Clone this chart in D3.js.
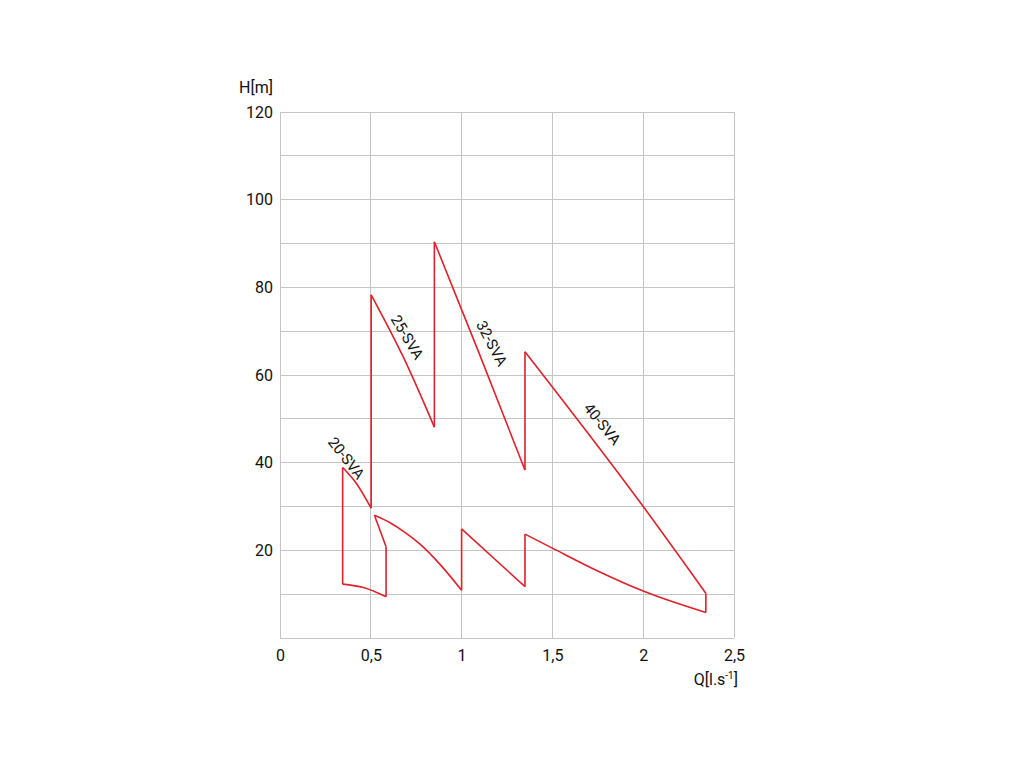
<!DOCTYPE html>
<html>
<head>
<meta charset="utf-8">
<script src="https://cdn.jsdelivr.net/npm/d3@7"></script>
<style>
  html, body { margin: 0; padding: 0; background: #fff; }
  svg text { font-family: "Roboto", "Liberation Sans", sans-serif; fill: #111; }
</style>
</head>
<body>
<svg id="chart" width="1024" height="768"></svg>
<script>
// ---- data ----
const xTicks = [0, 0.5, 1, 1.5, 2, 2.5];
const xTickLabels = ["0", "0,5", "1", "1,5", "2", "2,5"];
const yTicks = [20, 40, 60, 80, 100, 120];
const yGrid = [10, 20, 30, 40, 50, 60, 70, 80, 90, 100, 110, 120];

// outline segments of the operating-range envelope (Q in l/s, H in m)
const seg20top   = { q: [0.345, 0.42, 0.502],        h: [38.9, 35.3, 29.6] };
const seg25vert  = { q: [0.502, 0.502],              h: [29.6, 78.3] };
const seg25top   = { q: [0.502, 0.68, 0.85],         h: [78.3, 64.0, 48.1] };
const seg32vert  = { q: [0.85, 0.85],                h: [48.1, 90.4] };
const seg32top   = { q: [0.85, 1.1, 1.349],          h: [90.4, 64.6, 38.3] };
const seg40vert  = { q: [1.349, 1.349],              h: [38.3, 65.3] };
const seg40top   = { q: [1.349, 2.0, 2.345],         h: [65.3, 30.0, 10.2] };
const seg40end   = { q: [2.345, 2.345],              h: [10.2, 5.8] };
const seg40bot   = { q: [2.345, 2.0, 1.744, 1.5, 1.349], h: [5.8, 10.7, 15.4, 20.5, 23.7] };
const seg40start = { q: [1.349, 1.349],              h: [23.7, 11.7] };
const seg32bot   = { q: [1.349, 1.0],                h: [11.7, 24.9] };
const seg32start = { q: [1.0, 1.0],                  h: [24.9, 10.9] };
const seg25bot   = { q: [1.0, 0.881, 0.771, 0.688, 0.606, 0.52], h: [10.9, 16.8, 21.4, 24.1, 26.3, 28.0] };
const seg25link  = { q: [0.52, 0.584],               h: [28.0, 20.8] };
const seg20end   = { q: [0.584, 0.584],              h: [20.8, 9.4] };
const seg20bot   = { q: [0.584, 0.46, 0.345],        h: [9.4, 11.5, 12.3] };
const seg20start = { q: [0.345, 0.345],              h: [12.3, 38.9] };

const segments = [seg20top, seg25vert, seg25top, seg32vert, seg32top, seg40vert, seg40top,
  seg40end, seg40bot, seg40start, seg32bot, seg32start, seg25bot, seg25link, seg20end,
  seg20bot, seg20start];

const pumpNames = ["20-SVA", "25-SVA", "32-SVA", "40-SVA"];
const labelQ = [0.365, 0.70, 1.165, 1.774];
const labelH = [41.0, 68.6, 67.2, 48.8];
const labelAngle = [52, 59, 62, 51];

// ---- layout ----
const svg = d3.select("#chart");
const x = d3.scaleLinear().domain([0, 2.5]).range([280, 734]);
const y = d3.scaleLinear().domain([0, 120]).range([638, 112]);

const grid = svg.append("g");
grid.selectAll("line.h").data(yGrid).join("line")
  .attr("x1", x(0)).attr("x2", x(2.5))
  .attr("y1", d => y(d)).attr("y2", d => y(d))
  .attr("stroke", "#c4c4c4").attr("stroke-width", 1).attr("shape-rendering", "crispEdges");
grid.selectAll("line.v").data(xTicks).join("line")
  .attr("y1", y(0)).attr("y2", y(120))
  .attr("x1", d => x(d)).attr("x2", d => x(d))
  .attr("stroke", "#c4c4c4").attr("stroke-width", 1).attr("shape-rendering", "crispEdges");
grid.append("line").attr("x1", x(0)).attr("x2", x(2.5)).attr("y1", y(0)).attr("y2", y(0))
  .attr("stroke", "#c4c4c4").attr("shape-rendering", "crispEdges");

// axes (labels only)
const yAxis = d3.axisLeft(y).tickValues(yTicks).tickSize(0).tickPadding(7);
svg.append("g").attr("transform", `translate(${x(0)},0)`).call(yAxis)
  .call(g => g.select(".domain").remove())
  .call(g => g.selectAll("text").attr("font-size", 16).attr("font-family", null));

const xAxis = d3.axisBottom(x).tickValues(xTicks).tickFormat((d, i) => xTickLabels[i]).tickSize(0).tickPadding(12);
svg.append("g").attr("transform", `translate(0,${y(0)})`).call(xAxis)
  .call(g => g.select(".domain").remove())
  .call(g => g.selectAll("text").attr("font-size", 16).attr("font-family", null));

svg.append("text").attr("x", 273).attr("y", 93).attr("text-anchor", "end").attr("font-size", 16).text("H[m]");
const ql = svg.append("text").attr("x", 738).attr("y", 685).attr("text-anchor", "end").attr("font-size", 16);
ql.append("tspan").text("Q[l.s");
ql.append("tspan").attr("font-size", 10).attr("dy", -6).text("-1");
ql.append("tspan").attr("dy", 6).text("]");

// curves (points ordered by Q for a monotone smooth curve)
const line = d3.line().x(d => x(d[0])).y(d => y(d[1])).curve(d3.curveMonotoneX);
svg.append("g").selectAll("path").data(segments).join("path")
  .attr("d", s => {
    const pts = s.q.map((q, i) => [q, s.h[i]]);
    if (pts.length > 2) pts.sort((a, b) => a[0] - b[0]);
    return line(pts);
  })
  .attr("fill", "none").attr("stroke", "#e0202a").attr("stroke-width", 1.6)
  .attr("stroke-linejoin", "miter");

// pump labels
svg.append("g").selectAll("text").data(pumpNames).join("text")
  .attr("transform", (d, i) => `translate(${x(labelQ[i])},${y(labelH[i])}) rotate(${labelAngle[i]})`)
  .attr("text-anchor", "middle").attr("dominant-baseline", "central")
  .attr("font-size", 15).text(d => d);
</script>
</body>
</html>
